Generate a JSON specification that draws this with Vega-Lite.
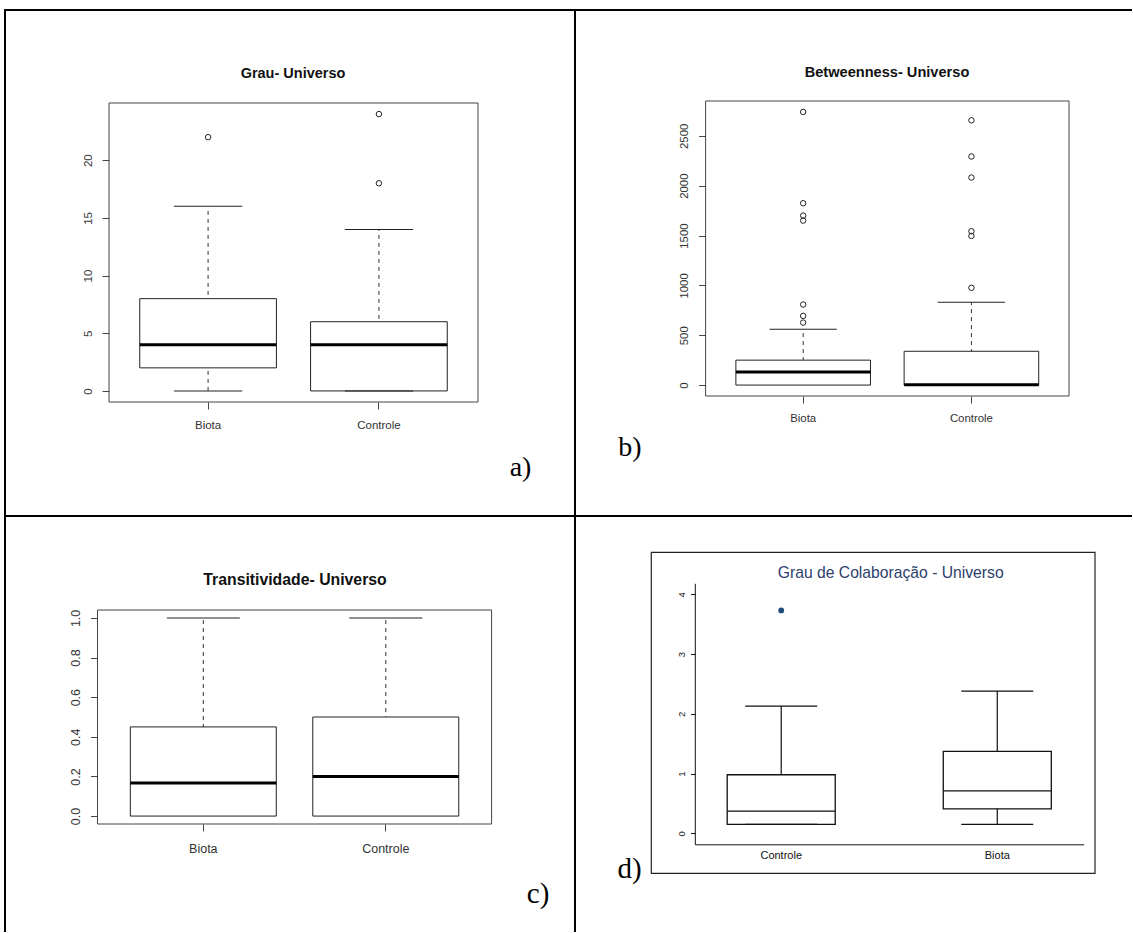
{
  "$schema": "https://vega.github.io/schema/vega-lite/v6.json",
  "background": "white",
  "padding": {"left": 3, "top": 8, "right": 0, "bottom": 0},
  "spacing": 0,
  "bounds": "flush",
  "columns": 2,
  "config": {"tick": {"opacity": 1}},
  "datasets": {
    "grau_box": [
      {"grupo": "Biota", "minimo": 0, "q1": 2, "mediana": 4, "q3": 8, "maximo": 16},
      {"grupo": "Controle", "minimo": 0, "q1": 0, "mediana": 4, "q3": 6, "maximo": 14}
    ],
    "grau_out": [
      {"grupo": "Biota", "valor": 22},
      {"grupo": "Controle", "valor": 18},
      {"grupo": "Controle", "valor": 24}
    ],
    "betw_box": [
      {"grupo": "Biota", "minimo": 0, "q1": 0, "mediana": 130, "q3": 250, "maximo": 560},
      {"grupo": "Controle", "minimo": 0, "q1": 0, "mediana": 3, "q3": 339, "maximo": 832}
    ],
    "betw_out": [
      {"grupo": "Biota", "valor": 627},
      {"grupo": "Biota", "valor": 694},
      {"grupo": "Biota", "valor": 808},
      {"grupo": "Biota", "valor": 1650},
      {"grupo": "Biota", "valor": 1700},
      {"grupo": "Biota", "valor": 1824},
      {"grupo": "Biota", "valor": 2740},
      {"grupo": "Controle", "valor": 976},
      {"grupo": "Controle", "valor": 1496},
      {"grupo": "Controle", "valor": 1543},
      {"grupo": "Controle", "valor": 2082},
      {"grupo": "Controle", "valor": 2293},
      {"grupo": "Controle", "valor": 2656}
    ],
    "trans_box": [
      {"grupo": "Biota", "minimo": 0, "q1": 0, "mediana": 0.167, "q3": 0.45, "maximo": 1.0},
      {"grupo": "Controle", "minimo": 0, "q1": 0, "mediana": 0.2, "q3": 0.5, "maximo": 1.0}
    ],
    "colab_box": [
      {"grupo": "Controle", "minimo": 0.15, "q1": 0.15, "mediana": 0.37, "q3": 0.98, "maximo": 2.13},
      {"grupo": "Biota", "minimo": 0.15, "q1": 0.41, "mediana": 0.71, "q3": 1.37, "maximo": 2.38}
    ],
    "colab_out": [
      {"grupo": "Controle", "valor": 3.73}
    ]
  },
  "concat": [
    {
      "width": 570,
      "height": 506,
      "view": {"fill": "white", "stroke": "black", "strokeWidth": 2, "strokeCap": "square", "strokeDash": [570, 1076, 506, 0]},
      "title": {"text": "Grau- Universo", "anchor": "middle", "frame": "group", "orient": "top", "dx": 3, "offset": -78.7, "baseline": "middle", "font": "Liberation Sans", "fontSize": 14.5, "fontWeight": "bold", "color": "#111"},
      "resolve": {"scale": {"x": "independent", "y": "independent"}},
      "layer": [
        {
          "data": {"values": [{"moldura": "a"}]},
          "mark": {"type": "rect", "filled": false, "stroke": "#444", "strokeWidth": 1},
          "encoding": {
            "x": {"datum": 0, "type": "quantitative", "scale": {"domain": [0, 1], "range": [104, 473], "nice": false, "zero": false}, "axis": null},
            "x2": {"datum": 1},
            "y": {"datum": 0, "type": "quantitative", "scale": {"domain": [0, 1], "range": [392, 93], "nice": false, "zero": false}, "axis": null},
            "y2": {"datum": 1}
          }
        },
        {
          "encoding": {
            "x": {
              "field": "grupo", "type": "nominal", "sort": null,
              "scale": {"domain": ["Biota", "Controle"], "range": [104, 473], "paddingInner": 0.2, "paddingOuter": 0.18},
              "axis": {"title": "a)", "titleFont": "Liberation Serif", "titleFontSize": 28, "titleFontWeight": "normal", "titleColor": "black", "titleX": 515, "titleY": 65, "titleAlign": "center", "titleBaseline": "middle", "titleAngle": 0,
                "offset": -114, "domain": false, "grid": false, "ticks": true, "tickSize": 7, "tickColor": "#444", "labelAngle": 0, "labelAlign": "center", "labelBaseline": "middle", "labelPadding": 16.7, "labelFont": "Liberation Sans", "labelFontSize": 11.5, "labelColor": "#333"}
            }
          },
          "layer": [
            {
              "data": {"name": "grau_box"},
              "mark": {"type": "rule", "color": "#333", "strokeDash": [4, 4], "strokeWidth": 1},
              "encoding": {
                "y": {"field": "minimo", "type": "quantitative", "scale": {"domain": [-0.96, 24.96], "range": [392, 93], "nice": false, "zero": false},
                  "axis": {"title": null, "offset": -104, "values": [0, 5, 10, 15, 20], "format": "d", "domain": false, "grid": false, "ticks": true, "tickSize": 7, "tickColor": "#444", "labelAngle": 270, "labelAlign": "center", "labelBaseline": "middle", "labelPadding": 14, "labelFont": "Liberation Sans", "labelFontSize": 11.5, "labelColor": "#333", "labelFlush": false, "labelOverlap": false}},
                "y2": {"field": "maximo"}
              }
            },
            {
              "data": {"name": "grau_box"},
              "mark": {"type": "bar", "fill": "white", "stroke": "#222", "strokeWidth": 1},
              "encoding": {"y": {"field": "q1", "type": "quantitative", "title": null}, "y2": {"field": "q3"}}
            },
            {
              "data": {"name": "grau_box"},
              "mark": {"type": "tick", "color": "black", "size": 136.7, "thickness": 3, "opacity": 1},
              "encoding": {"y": {"field": "mediana", "type": "quantitative", "title": null}}
            },
            {
              "data": {"name": "grau_box"},
              "mark": {"type": "tick", "color": "#222", "size": 68.3, "thickness": 1, "opacity": 1},
              "encoding": {"y": {"field": "maximo", "type": "quantitative", "title": null}}
            },
            {
              "data": {"name": "grau_box"},
              "mark": {"type": "tick", "color": "#222", "size": 68.3, "thickness": 1, "opacity": 1},
              "encoding": {"y": {"field": "minimo", "type": "quantitative", "title": null}}
            },
            {
              "data": {"name": "grau_out"},
              "mark": {"type": "point", "shape": "circle", "filled": false, "size": 30, "strokeWidth": 1, "color": "#222", "opacity": 1},
              "encoding": {"y": {"field": "valor", "type": "quantitative", "title": null}}
            }
          ]
        }
      ]
    },
    {
      "width": 556,
      "height": 506,
      "view": {"fill": "white", "stroke": "black", "strokeWidth": 2, "strokeCap": "square", "strokeDash": [556, 1062, 506, 0]},
      "title": {"text": "Betweenness- Universo", "anchor": "middle", "frame": "group", "orient": "top", "dx": 34, "offset": -77.7, "baseline": "middle", "font": "Liberation Sans", "fontSize": 14.6, "fontWeight": "bold", "color": "#111"},
      "resolve": {"scale": {"x": "independent", "y": "independent"}},
      "layer": [
        {
          "data": {"values": [{"moldura": "b"}]},
          "mark": {"type": "rect", "filled": false, "stroke": "#444", "strokeWidth": 1},
          "encoding": {
            "x": {"datum": 0, "type": "quantitative", "scale": {"domain": [0, 1], "range": [130.6, 494], "nice": false, "zero": false}, "axis": null},
            "x2": {"datum": 1},
            "y": {"datum": 0, "type": "quantitative", "scale": {"domain": [0, 1], "range": [386, 91], "nice": false, "zero": false}, "axis": null},
            "y2": {"datum": 1}
          }
        },
        {
          "encoding": {
            "x": {
              "field": "grupo", "type": "nominal", "sort": null,
              "scale": {"domain": ["Biota", "Controle"], "range": [130.6, 494], "paddingInner": 0.2, "paddingOuter": 0.18},
              "axis": {"title": "b)", "titleFont": "Liberation Serif", "titleFontSize": 28, "titleFontWeight": "normal", "titleColor": "black", "titleX": 54.5, "titleY": 51, "titleAlign": "center", "titleBaseline": "middle", "titleAngle": 0,
                "offset": -120, "domain": false, "grid": false, "ticks": true, "tickSize": 7, "tickColor": "#444", "labelAngle": 0, "labelAlign": "center", "labelBaseline": "middle", "labelPadding": 15, "labelFont": "Liberation Sans", "labelFontSize": 11.4, "labelColor": "#333"}
            }
          },
          "layer": [
            {
              "data": {"name": "betw_box"},
              "mark": {"type": "rule", "color": "#333", "strokeDash": [4, 4], "strokeWidth": 1},
              "encoding": {
                "y": {"field": "minimo", "type": "quantitative", "scale": {"domain": [-109.6, 2849.6], "range": [386, 91], "nice": false, "zero": false},
                  "axis": {"title": null, "offset": -130.6, "values": [0, 500, 1000, 1500, 2000, 2500], "format": "d", "domain": false, "grid": false, "ticks": true, "tickSize": 7, "tickColor": "#444", "labelAngle": 270, "labelAlign": "center", "labelBaseline": "middle", "labelPadding": 14, "labelFont": "Liberation Sans", "labelFontSize": 11.4, "labelColor": "#333", "labelFlush": false, "labelOverlap": false}},
                "y2": {"field": "maximo"}
              }
            },
            {
              "data": {"name": "betw_box"},
              "mark": {"type": "bar", "fill": "white", "stroke": "#222", "strokeWidth": 1},
              "encoding": {"y": {"field": "q1", "type": "quantitative", "title": null}, "y2": {"field": "q3"}}
            },
            {
              "data": {"name": "betw_box"},
              "mark": {"type": "tick", "color": "black", "size": 134.6, "thickness": 3, "opacity": 1},
              "encoding": {"y": {"field": "mediana", "type": "quantitative", "title": null}}
            },
            {
              "data": {"name": "betw_box"},
              "mark": {"type": "tick", "color": "#222", "size": 67.3, "thickness": 1, "opacity": 1},
              "encoding": {"y": {"field": "maximo", "type": "quantitative", "title": null}}
            },
            {
              "data": {"name": "betw_out"},
              "mark": {"type": "point", "shape": "circle", "filled": false, "size": 30, "strokeWidth": 1, "color": "#222", "opacity": 1},
              "encoding": {"y": {"field": "valor", "type": "quantitative", "title": null}}
            }
          ]
        }
      ]
    },
    {
      "width": 570,
      "height": 415,
      "view": {"fill": "white", "stroke": "black", "strokeWidth": 2, "strokeCap": "square", "strokeDash": [570, 985, 415, 0]},
      "title": {"text": "Transitividade- Universo", "anchor": "middle", "frame": "group", "orient": "top", "dx": 5, "offset": -79.3, "baseline": "middle", "font": "Liberation Sans", "fontSize": 15.8, "fontWeight": "bold", "color": "#111"},
      "resolve": {"scale": {"x": "independent", "y": "independent"}},
      "layer": [
        {
          "data": {"values": [{"moldura": "c"}]},
          "mark": {"type": "rect", "filled": false, "stroke": "#444", "strokeWidth": 1},
          "encoding": {
            "x": {"datum": 0, "type": "quantitative", "scale": {"domain": [0, 1], "range": [92.5, 486.6], "nice": false, "zero": false}, "axis": null},
            "x2": {"datum": 1},
            "y": {"datum": 0, "type": "quantitative", "scale": {"domain": [0, 1], "range": [308, 94], "nice": false, "zero": false}, "axis": null},
            "y2": {"datum": 1}
          }
        },
        {
          "encoding": {
            "x": {
              "field": "grupo", "type": "nominal", "sort": null,
              "scale": {"domain": ["Biota", "Controle"], "range": [92.5, 486.6], "paddingInner": 0.2, "paddingOuter": 0.18},
              "axis": {"title": "c)", "titleFont": "Liberation Serif", "titleFontSize": 29, "titleFontWeight": "normal", "titleColor": "black", "titleX": 532.6, "titleY": 69, "titleAlign": "center", "titleBaseline": "middle", "titleAngle": 0,
                "offset": -107, "domain": false, "grid": false, "ticks": true, "tickSize": 7, "tickColor": "#444", "labelAngle": 0, "labelAlign": "center", "labelBaseline": "middle", "labelPadding": 17, "labelFont": "Liberation Sans", "labelFontSize": 12.5, "labelColor": "#333"}
            }
          },
          "layer": [
            {
              "data": {"name": "trans_box"},
              "mark": {"type": "rule", "color": "#333", "strokeDash": [4, 4], "strokeWidth": 1},
              "encoding": {
                "y": {"field": "minimo", "type": "quantitative", "scale": {"domain": [-0.04, 1.04], "range": [308, 94], "nice": false, "zero": false},
                  "axis": {"title": null, "offset": -92.5, "values": [0, 0.2, 0.4, 0.6, 0.8, 1.0], "format": ".1f", "domain": false, "grid": false, "ticks": true, "tickSize": 7, "tickColor": "#444", "labelAngle": 270, "labelAlign": "center", "labelBaseline": "middle", "labelPadding": 15, "labelFont": "Liberation Sans", "labelFontSize": 12.5, "labelColor": "#333", "labelFlush": false, "labelOverlap": false}},
                "y2": {"field": "maximo"}
              }
            },
            {
              "data": {"name": "trans_box"},
              "mark": {"type": "bar", "fill": "white", "stroke": "#222", "strokeWidth": 1},
              "encoding": {"y": {"field": "q1", "type": "quantitative", "title": null}, "y2": {"field": "q3"}}
            },
            {
              "data": {"name": "trans_box"},
              "mark": {"type": "tick", "color": "black", "size": 146, "thickness": 3, "opacity": 1},
              "encoding": {"y": {"field": "mediana", "type": "quantitative", "title": null}}
            },
            {
              "data": {"name": "trans_box"},
              "mark": {"type": "tick", "color": "#222", "size": 73, "thickness": 1, "opacity": 1},
              "encoding": {"y": {"field": "maximo", "type": "quantitative", "title": null}}
            }
          ]
        }
      ]
    },
    {
      "width": 556,
      "height": 415,
      "view": {"fill": "white", "stroke": "black", "strokeWidth": 2, "strokeCap": "square", "strokeDash": [556, 971, 415, 0]},
      "title": {"text": "Grau de Colaboração - Universo", "anchor": "middle", "frame": "group", "orient": "top", "dx": 37.7, "offset": -72.7, "baseline": "middle", "font": "Liberation Sans", "fontSize": 15.7, "fontWeight": "normal", "color": "#2c3e6b"},
      "resolve": {"scale": {"x": "independent", "y": "independent"}},
      "layer": [
        {
          "data": {"values": [{"moldura": "d"}]},
          "mark": {"type": "rect", "filled": false, "stroke": "#222", "strokeWidth": 1.2},
          "encoding": {
            "x": {"datum": 0, "type": "quantitative", "scale": {"domain": [0, 1], "range": [76.3, 520], "nice": false, "zero": false}, "axis": null},
            "x2": {"datum": 1},
            "y": {"datum": 0, "type": "quantitative", "scale": {"domain": [0, 1], "range": [357.3, 36.3], "nice": false, "zero": false}, "axis": null},
            "y2": {"datum": 1}
          }
        },
        {
          "encoding": {
            "x": {
              "field": "grupo", "type": "nominal", "sort": null,
              "scale": {"domain": ["Controle", "Biota"], "range": [119.8, 508.7], "paddingInner": 0.5, "paddingOuter": 0.15},
              "axis": {"title": "d)", "titleFont": "Liberation Serif", "titleFontSize": 29, "titleFontWeight": "normal", "titleColor": "black", "titleX": 54, "titleY": 23.7, "titleAlign": "center", "titleBaseline": "middle", "titleAngle": 0,
                "offset": -86.7, "domain": true, "domainColor": "#111", "domainWidth": 1, "grid": false, "ticks": false, "tickSize": 0, "labelAngle": 0, "labelAlign": "center", "labelBaseline": "middle", "labelPadding": 10.7, "labelFont": "Liberation Sans", "labelFontSize": 11, "labelColor": "#111"}
            }
          },
          "layer": [
            {
              "data": {"name": "colab_box"},
              "mark": {"type": "rule", "color": "#111", "strokeWidth": 1.2},
              "encoding": {
                "y": {"field": "minimo", "type": "quantitative", "scale": {"domain": [-0.184, 4.184], "range": [328.3, 67.3], "nice": false, "zero": false},
                  "axis": {"title": null, "offset": -119.8, "values": [0, 1, 2, 3, 4], "format": "d", "domain": true, "domainColor": "#111", "domainWidth": 1, "grid": false, "ticks": true, "tickSize": 4.3, "tickColor": "#111", "labelAngle": 270, "labelAlign": "center", "labelBaseline": "middle", "labelPadding": 9, "labelFont": "Liberation Sans", "labelFontSize": 9.5, "labelColor": "#111", "labelFlush": false, "labelOverlap": false}},
                "y2": {"field": "maximo"}
              }
            },
            {
              "data": {"name": "colab_box"},
              "mark": {"type": "bar", "fill": "white", "stroke": "#111", "strokeWidth": 1.3},
              "encoding": {"y": {"field": "q1", "type": "quantitative", "title": null}, "y2": {"field": "q3"}}
            },
            {
              "data": {"name": "colab_box"},
              "mark": {"type": "tick", "color": "#111", "size": 108, "thickness": 1.3, "opacity": 1},
              "encoding": {"y": {"field": "mediana", "type": "quantitative", "title": null}}
            },
            {
              "data": {"name": "colab_box"},
              "mark": {"type": "tick", "color": "#111", "size": 72, "thickness": 1.3, "opacity": 1},
              "encoding": {"y": {"field": "maximo", "type": "quantitative", "title": null}}
            },
            {
              "data": {"name": "colab_box"},
              "mark": {"type": "tick", "color": "#111", "size": 72, "thickness": 1.3, "opacity": 1},
              "encoding": {"y": {"field": "minimo", "type": "quantitative", "title": null}}
            },
            {
              "data": {"name": "colab_out"},
              "mark": {"type": "point", "shape": "circle", "filled": true, "size": 34, "color": "#1f4a7a", "opacity": 1},
              "encoding": {"y": {"field": "valor", "type": "quantitative", "title": null}}
            }
          ]
        }
      ]
    }
  ]
}
